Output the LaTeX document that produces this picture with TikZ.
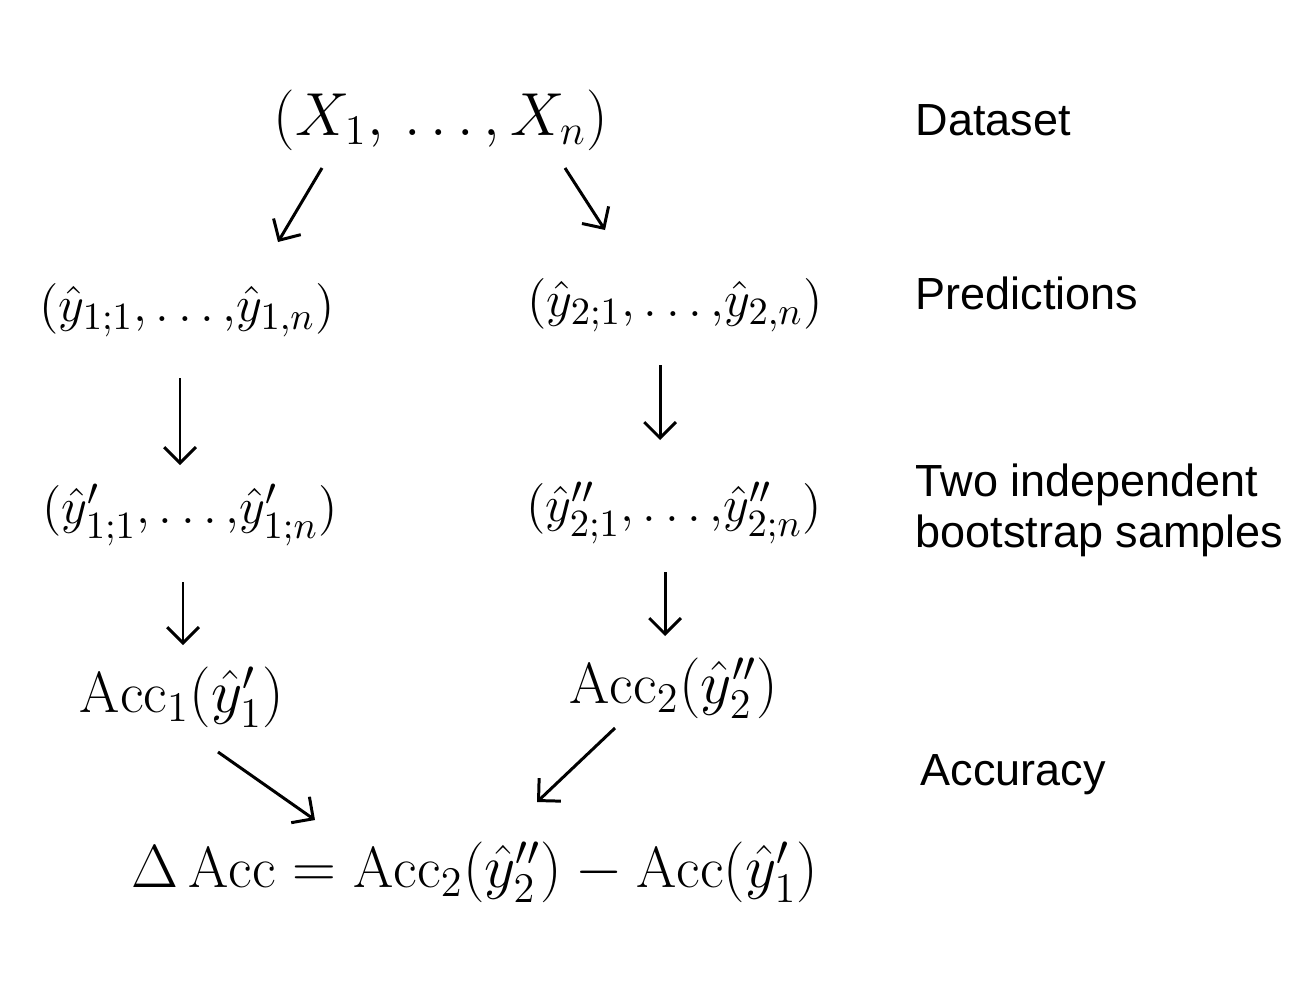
\documentclass[tikz,border=0pt]{standalone}
\usepackage{amssymb,amsfonts,amsmath}
\usepackage{fontspec}
\newfontfamily\labelfont{Liberation Sans}
\usepackage{tikz}
\usetikzlibrary{arrows.meta}

\begin{document}
\begin{tikzpicture}[x=0.01cm, y=-0.01cm,
        hand/.style={font=\fontsize{16.5}{20}\selectfont, inner sep=0pt},
        tuple/.style={font=\fontsize{15}{18}\selectfont, inner sep=0pt},
        lbl/.style={font=\labelfont\fontsize{12.8}{14.5}\selectfont, anchor=west, align=left, inner sep=0pt},
        arr/.style={line width=0.85pt, -{Straight Barb[length=4.5pt,width=9pt]}}]
        \useasboundingbox (0,0) rectangle (1295,1000);

        % Dataset and predictions
        \node[hand] (data) at (441,120) {$(X_1{,}\,\ldots{,}\,X_n)$};
        \node[tuple] (predL) at (187,310) {$(\hat y_{1{;}1}{,}\ldots{,}\hat y_{1{,}n})$};
        \node[tuple] (predR) at (675,305) {$(\hat y_{2{;}1}{,}\ldots{,}\hat y_{2{,}n})$};

        % Bootstrap samples
        \node[tuple] (bootL) at (190,515) {$(\hat y'_{1{;}1}{,}\ldots{,}\hat y'_{1{;}n})$};
        \node[tuple] (bootR) at (674,513) {$(\hat y''_{2{;}1}{,}\ldots{,}\hat y''_{2{;}n})$};

        % Accuracies
        \node[hand] (accL) at (182,697) {$\mathrm{Acc}_1(\hat y'_1)$};
        \node[hand] (accR) at (674,688) {$\mathrm{Acc}_2(\hat y''_2)$};
        \node[hand] (delta) at (475,872) {$\Delta\,\mathrm{Acc} = \mathrm{Acc}_2(\hat y''_2) - \mathrm{Acc}(\hat y'_1)$};

        % Row labels
        \node[lbl] (lblData) at (915,120) {Dataset};
        \node[lbl] (lblPred) at (915,293) {Predictions};
        \node[lbl] (lblBoot) at (915,510) {Two independent\\bootstrap samples};
        \node[lbl] (lblAcc) at (920,775) {Accuracy};

        % Arrows
        \draw[arr] ([shift={(-119,48)}]data.center) -- ([shift={(91,-68)}]predL.center);
        \draw[arr] ([shift={(124,48)}]data.center) -- ([shift={(-70,-75)}]predR.center);
        \draw[arr] ([shift={(-7,68)}]predL.center) -- ([shift={(-10,-50)}]bootL.center);
        \draw[arr] ([shift={(-15,60)}]predR.center) -- ([shift={(-14,-73)}]bootR.center);
        \draw[arr] ([shift={(-7,67)}]bootL.center) -- ([shift={(1,-52)}]accL.center);
        \draw[arr] ([shift={(-9,59)}]bootR.center) -- ([shift={(-9,-52)}]accR.center);
        \draw[arr] ([shift={(36,55)}]accL.center) -- ([shift={(-160,-52)}]delta.center);
        \draw[arr] ([shift={(-59,40)}]accR.center) -- ([shift={(62,-70)}]delta.center);
    \end{tikzpicture}
\end{document}
